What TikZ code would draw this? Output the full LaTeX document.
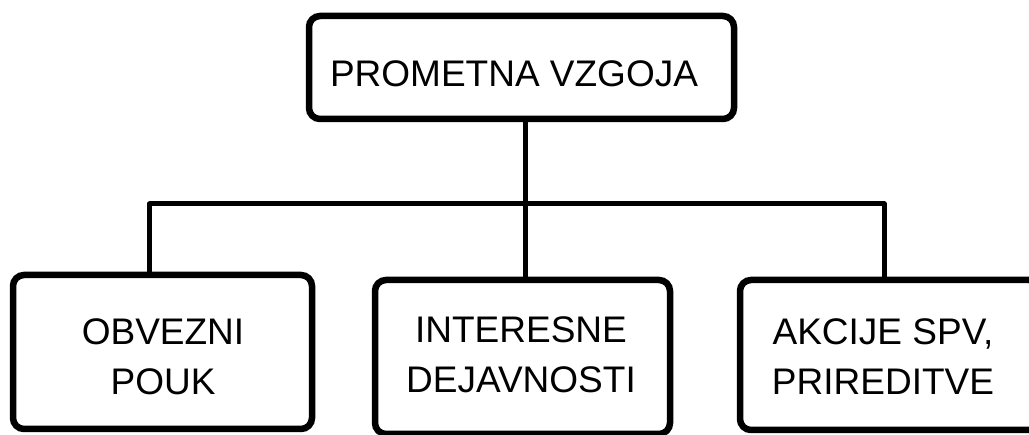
\documentclass[tikz,border=0pt]{standalone}
\usepackage{fontspec}
\setmainfont{Liberation Sans}
\begin{document}
\begin{tikzpicture}[x=1pt,y=-1pt,
  box/.style={draw=black, line width=6.5pt, rounded corners=11pt, fill=white, inner sep=0pt},
  label/.style={align=center, inner sep=0pt, text depth=0pt, font=\fontsize{37}{50}\selectfont},
  conn/.style={draw=black, line width=5pt, line join=round}]
\useasboundingbox (0,0) rectangle (1029,435);
\clip (0,0) rectangle (1029,435);
\fill[white] (0,0) rectangle (1029,435);
\node[box, minimum width=425pt, minimum height=103pt] (top) at (521.5,67.5) {};
\node[box, minimum width=299pt, minimum height=154pt] (left) at (162.5,352) {};
\node[box, minimum width=295pt, minimum height=154pt] (mid) at (522.5,357) {};
\node[box, minimum width=300pt, minimum height=150pt] (right) at (890,355) {};
\node[label] (topT) at (514,73.5) {PROMETNA VZGOJA};
\node[label] (leftT) at (163,356.5) {OBVEZNI\\POUK};
\node[label] (midT) at (521,355) {INTERESNE\\DEJAVNOSTI};
\node[label] (rightT) at (883,356.5) {AKCIJE SPV,\\PRIREDITVE};
\coordinate (bus) at (525.5,204);
\coordinate (busL) at (149.5,204);
\coordinate (busR) at (884,204);
\draw[conn] (top.south -| bus) -- (bus);
\draw[conn] (busL |- left.north) -- (busL) -- (busR) -- (busR |- right.north);
\draw[conn] (bus) -- (bus |- mid.north);
\end{tikzpicture}
\end{document}
